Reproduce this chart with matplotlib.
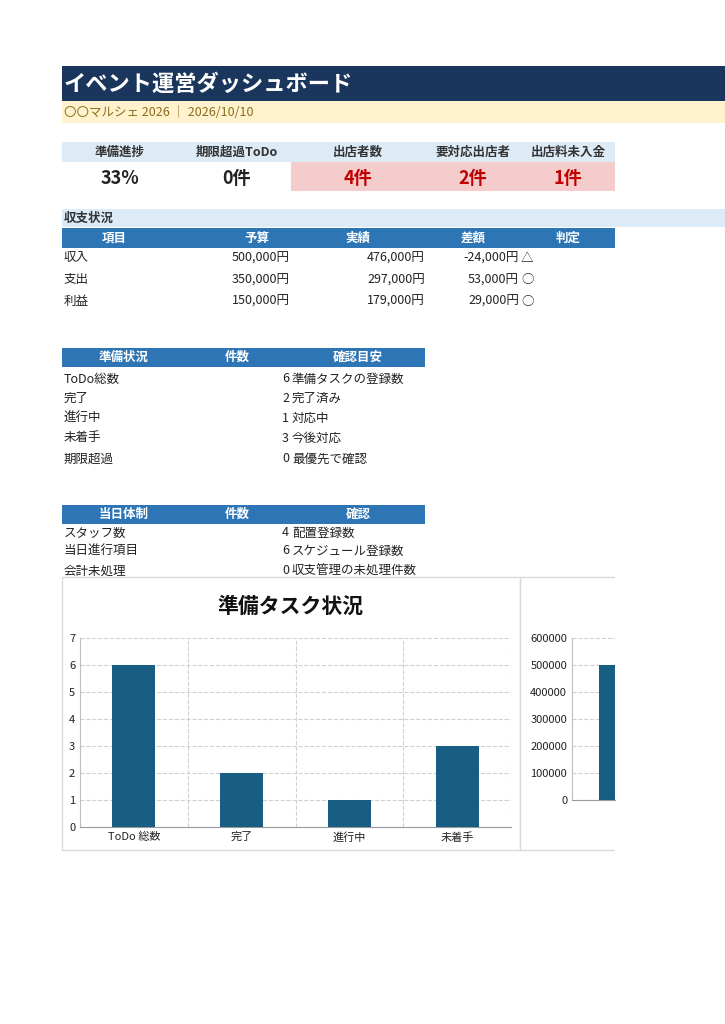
import matplotlib
matplotlib.use("Agg")
import matplotlib.pyplot as plt
from matplotlib.patches import Rectangle

plt.rcParams['font.family'] = ['Noto Sans CJK JP', 'DejaVu Sans']

W, H = 725, 1024
fig = plt.figure(figsize=(W/100, H/100), dpi=100)
bg = fig.add_axes([0, 0, 1, 1])
bg.set_xlim(0, W); bg.set_ylim(H, 0); bg.axis('off')

def rect(x0, y0, x1, y1, color, ec='none', lw=0):
    bg.add_patch(Rectangle((x0, y0), x1-x0, y1-y0, facecolor=color, edgecolor=ec, lw=lw))

def txt(x, y, s, size=9, ha='left', color='#222222', weight='normal'):
    bg.text(x, y, s, fontsize=size, ha=ha, va='center', color=color, weight=weight)

# data
title = "イベント運営ダッシュボード"
subtitle = "〇〇マルシェ 2026 ｜ 2026/10/10"
kpi_labels = ["準備進捗", "期限超過ToDo", "出店者数", "要対応出店者", "出店料未入金"]
kpi_values = ["33%", "0件", "4件", "2件", "1件"]
fin_cols = ["項目", "予算", "実績", "差額", "判定"]
fin_items = ["収入", "支出", "利益"]
fin_budget = [500000, 350000, 150000]
fin_actual = [476000, 297000, 179000]
fin_diff = [-24000, 53000, 29000]
fin_judge = ["△", "○", "○"]
prep_cols = ["準備状況", "件数", "確認目安"]
prep_items = ["ToDo総数", "完了", "進行中", "未着手", "期限超過"]
prep_counts = [6, 2, 1, 3, 0]
prep_notes = ["準備タスクの登録数", "完了済み", "対応中", "今後対応", "最優先で確認"]
day_cols = ["当日体制", "件数", "確認"]
day_items = ["スタッフ数", "当日進行項目", "会計未処理"]
day_counts = [4, 6, 0]
day_notes = ["配置登録数", "スケジュール登録数", "収支管理の未処理件数"]
chart_title = "準備タスク状況"
chart_cats = ["ToDo 総数", "完了", "進行中", "未着手"]
chart_vals = [6, 2, 1, 3]
chart2_vals = [500000]

# header
rect(62, 66, 725, 101, '#1b365d')
txt(64, 84, title, size=16, color='white', weight='bold')
rect(62, 101, 725, 123, '#fff2cc')
txt(64, 112, subtitle, size=9, color='#8a6d1e')

# KPI
rect(62, 142, 615, 162, '#ddebf7')
rect(291, 162, 615, 191, '#f4cccc')
kx = [120, 237, 358, 473, 568]
for i, (l, v) in enumerate(zip(kpi_labels, kpi_values)):
    txt(kx[i], 152, l, size=9, ha='center', color='#333333', weight='bold')
    txt(kx[i], 178, v, size=13, ha='center', color='#c00000' if i >= 2 else '#222222', weight='bold')

# finance
rect(62, 209, 725, 227, '#ddebf7')
txt(64, 218, "収支状況", size=9, weight='bold', color='#333333')
rect(62, 228, 615, 248, '#2e75b6')
for c, x in zip(fin_cols, [114, 257, 358, 473, 568]):
    txt(x, 238, c, size=9, ha='center', color='white', weight='bold')
for i, y in enumerate([258, 280, 301]):
    txt(64, y, fin_items[i])
    txt(290, y, f"{fin_budget[i]:,}円", ha='right')
    txt(425, y, f"{fin_actual[i]:,}円", ha='right')
    txt(519, y, f"{fin_diff[i]:,}円", ha='right')
    txt(521, y, fin_judge[i])

def table(y_head, cols, items, counts, notes, ys):
    rect(62, y_head, 425, y_head+19, '#2e75b6')
    for c, x in zip(cols, [124, 237, 358]):
        txt(x, y_head+9.5, c, size=9, ha='center', color='white', weight='bold')
    for i, y in enumerate(ys):
        txt(64, y, items[i])
        txt(289, y, str(counts[i]), ha='right')
        txt(292, y, notes[i])

table(348, prep_cols, prep_items, prep_counts, prep_notes, [379, 398, 418, 438, 459])
table(505, day_cols, day_items, day_counts, day_notes, [533, 551, 571])

# chart panels
rect(62, 577, 520, 850, 'white', ec='#d9d9d9', lw=1)
rect(520, 577, 640, 850, 'white', ec='#d9d9d9', lw=1)
rect(615, 560, 725, 860, 'white')
txt(290, 606, chart_title, size=15, ha='center', color='#111111', weight='bold')

def to_ax(x0, y0, x1, y1):
    return [x0/W, 1-y1/H, (x1-x0)/W, (y1-y0)/H]

bar_c = '#175e82'
ax = fig.add_axes(to_ax(80, 638, 511, 827))
xs = list(range(len(chart_vals)))
ax.bar(xs, chart_vals, width=0.4, color=bar_c, zorder=3)
ax.set_xlim(-0.5, 3.5); ax.set_ylim(0, 7)
ax.set_yticks(range(8))
ax.set_xticks(xs); ax.set_xticklabels(chart_cats)
ax.set_xticks([0.5, 1.5, 2.5, 3.5], minor=True)
ax.grid(axis='y', ls='--', color='#d0d0d0', lw=0.8)
ax.grid(axis='x', which='minor', ls='--', color='#d0d0d0', lw=0.8)
ax.tick_params(which='both', length=0, labelsize=8, colors='#222222')
for s in ['top', 'right']:
    ax.spines[s].set_visible(False)
ax.spines['left'].set_color('#bfbfbf'); ax.spines['bottom'].set_color('#999999')

ax2 = fig.add_axes(to_ax(572, 638, 615, 800))
ax2.bar([0.97], chart2_vals, width=0.7, color=bar_c, zorder=3)
ax2.set_xlim(0, 1); ax2.set_ylim(0, 600000)
ax2.set_yticks(range(0, 600001, 100000))
ax2.set_xticks([])
ax2.grid(axis='y', ls='--', color='#d0d0d0', lw=0.8)
ax2.tick_params(length=0, labelsize=8, colors='#222222')
for s in ['top', 'right']:
    ax2.spines[s].set_visible(False)
ax2.spines['left'].set_color('#bfbfbf'); ax2.spines['bottom'].set_color('#999999')

fig.savefig('out.png', dpi=100, facecolor='white')
